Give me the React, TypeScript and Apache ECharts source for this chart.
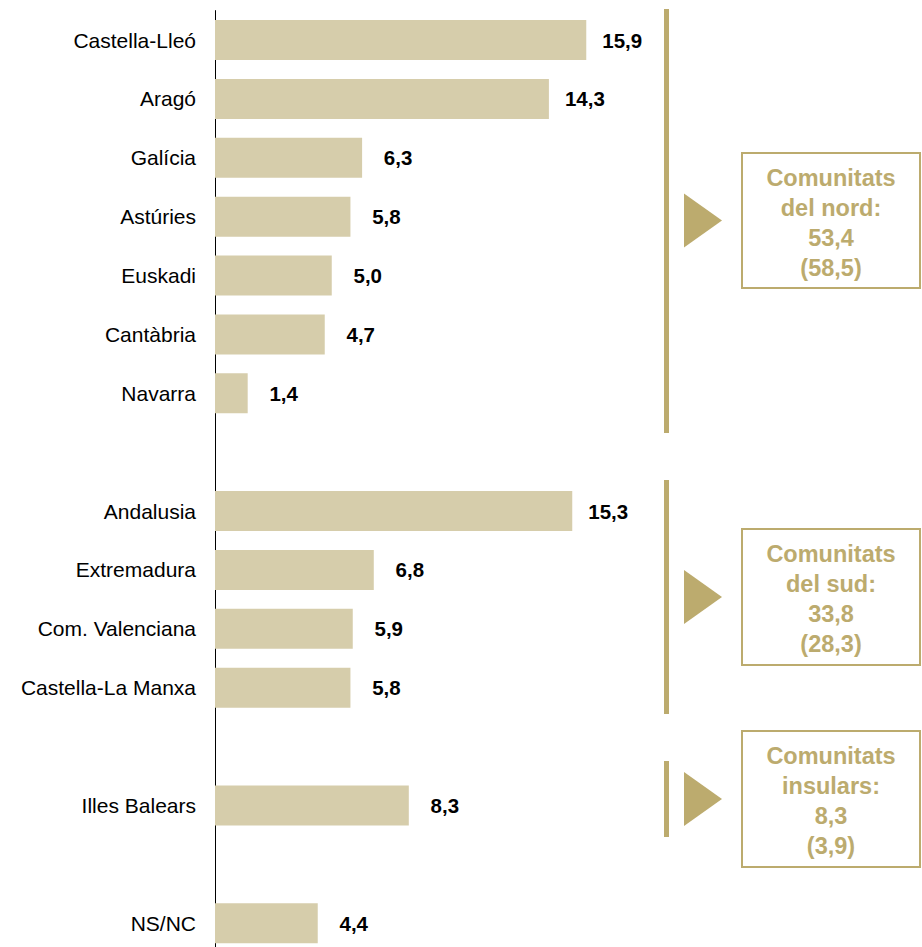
import React, { useEffect, useRef } from "react";
import * as echarts from "echarts";

const categories = [
  "Castella-Lleó", "Aragó", "Galícia", "Astúries", "Euskadi", "Cantàbria", "Navarra", "",
  "Andalusia", "Extremadura", "Com. Valenciana", "Castella-La Manxa", "",
  "Illes Balears", "", "NS/NC",
];
const values: (number | null)[] = [
  15.9, 14.3, 6.3, 5.8, 5.0, 4.7, 1.4, null,
  15.3, 6.8, 5.9, 5.8, null,
  8.3, null, 4.4,
];
const groupNames = ["Comunitats\ndel nord:", "Comunitats\ndel sud:", "Comunitats\ninsulars:"];
const groupTotals = ["53,4", "33,8", "8,3"];
const groupPrevious = ["(58,5)", "(28,3)", "(3,9)"];

const GOLD = "#bcab6e";
const BAR = "#d6cdab";
const FONT = "'Liberation Sans', Arial, sans-serif";

// annotation layout (decoration only)
const brackets = [
  { y1: 9, y2: 433, box: [153, 288] },
  { y1: 480, y2: 714, box: [529, 665] },
  { y1: 761, y2: 837, box: [731, 867] },
];

export default function App() {
  const ref = useRef<HTMLDivElement>(null);
  useEffect(() => {
    if (!ref.current) return;
    const chart = echarts.init(ref.current, undefined, { renderer: "svg" });
    const graphic: any[] = [];
    brackets.forEach((b, i) => {
      const cy = (b.box[0] + b.box[1]) / 2;
      graphic.push({
        type: "rect",
        shape: { x: 664, y: b.y1, width: 5, height: b.y2 - b.y1 },
        style: { fill: GOLD },
      });
      graphic.push({
        type: "polygon",
        shape: { points: [[684, cy - 27], [722, cy], [684, cy + 27]] },
        style: { fill: GOLD },
      });
      graphic.push({
        type: "rect",
        shape: { x: 742, y: b.box[0], width: 178, height: b.box[1] - b.box[0] },
        style: { fill: "#fff", stroke: GOLD, lineWidth: 2 },
      });
      graphic.push({
        type: "text",
        x: 831,
        y: cy + 2,
        style: {
          text: `${groupNames[i]}\n${groupTotals[i]}\n${groupPrevious[i]}`,
          fill: GOLD,
          font: `bold 23.5px ${FONT}`,
          fontFamily: FONT,
          fontWeight: "bold",
          fontSize: 23.5,
          lineHeight: 30,
          align: "center",
          verticalAlign: "middle",
        },
      });
    });
    chart.setOption({
      animation: false,
      grid: { left: 215, top: 10.6, width: 467, height: 942 },
      xAxis: {
        type: "value",
        min: 0,
        max: 20,
        show: false,
      },
      yAxis: {
        type: "category",
        data: categories,
        inverse: true,
        axisLine: { show: true, lineStyle: { color: "#000", width: 1 } },
        axisTick: { show: false },
        axisLabel: {
          margin: 19,
          color: "#000",
          fontSize: 21,
          fontFamily: FONT,
        },
      },
      series: [
        {
          type: "bar",
          data: values,
          barWidth: 40,
          itemStyle: { color: BAR },
          label: {
            show: true,
            position: "right",
            distance: 36,
            align: "center",
            color: "#000",
            fontWeight: "bold",
            fontSize: 20.5,
            fontFamily: FONT,
            formatter: (p: any) =>
              p.value == null ? "" : Number(p.value).toFixed(1).replace(".", ","),
          },
        },
      ],
      graphic,
    });
    return () => chart.dispose();
  }, []);
  return (
    <div
      style={{
        position: "fixed",
        left: 0,
        top: 0,
        width: 922,
        height: 947,
        overflow: "hidden",
        background: "#fff",
      }}
    >
      <div ref={ref} style={{ width: 922, height: 960 }} />
    </div>
  );
}
